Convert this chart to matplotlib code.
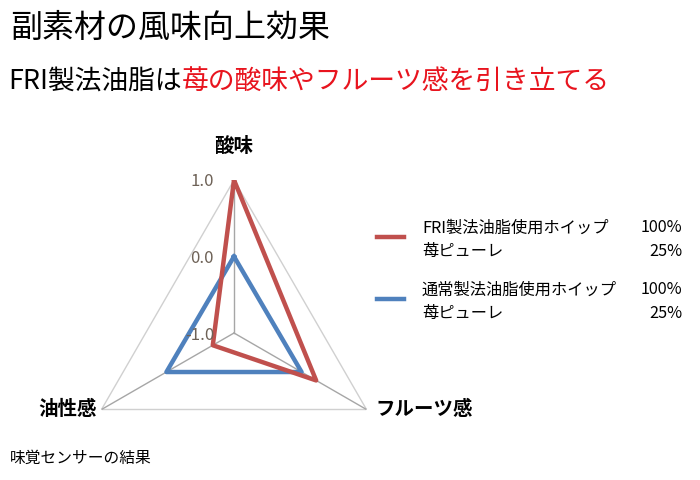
import numpy as np
import matplotlib
matplotlib.use("Agg")
import matplotlib.pyplot as plt
from matplotlib.lines import Line2D

plt.rcParams['font.family'] = ['Noto Sans CJK JP', 'DejaVu Sans']

# data
categories = ["酸味", "フルーツ感", "油性感"]
fri_values = [1.0, 0.24, -0.68]
normal_values = [0.0, 0.02, 0.02]
r_ticks = [-1.0, 0.0, 1.0]
series_names = ["FRI製法油脂使用ホイップ", "通常製法油脂使用ホイップ"]
puree_name = "苺ピューレ"
whip_pct = "100%"
puree_pct = "25%"

red = "#c0504d"
blue = "#4f81bd"

W, H = 700, 480
fig = plt.figure(figsize=(7, 4.8), dpi=100)

# polar axes centred at (234, 333) px with radius 153 px
cx, cy, rad = 234, 333, 153
ax = fig.add_axes([(cx - rad) / W, 1 - (cy + rad) / H, 2 * rad / W, 2 * rad / H],
                  projection="polar")
ax.set_theta_offset(np.pi / 2)
ax.set_theta_direction(-1)
ax.set_ylim(-1, 1)
ax.spines["polar"].set_visible(False)
ax.grid(False)
ax.set_xticks([])
ax.set_yticks([])
ax.patch.set_alpha(0)

angles = np.linspace(0, 2 * np.pi, len(categories), endpoint=False)
closed = np.append(angles, angles[0])

# outer frame and spokes
ax.plot(closed, [r_ticks[-1]] * len(closed), color="#d0d0d0", lw=1, zorder=1)
for a in angles:
    ax.plot([a, a], [r_ticks[0], r_ticks[-1]], color="#a6a6a6", lw=1, zorder=1)

# series
ax.plot(closed, fri_values + fri_values[:1], color=red, lw=3.2, zorder=3)
ax.plot(closed, normal_values + normal_values[:1], color=blue, lw=3.2, zorder=2)

# radial tick labels
for r in r_ticks:
    ax.annotate(f"{r:.1f}", xy=(0, r), xytext=(-20, -2), textcoords="offset pixels",
                ha="right", va="center", fontsize=12, color="#6e6257",
                annotation_clip=False, zorder=5)

# category labels
offsets = [(0, 34, "center"), (9, 0, "left"), (-5, 0, "right")]
for a, name, (dx, dy, ha) in zip(angles, categories, offsets):
    ax.annotate(name, xy=(a, r_ticks[-1]), xytext=(dx, dy), textcoords="offset pixels",
                ha=ha, va="center", fontsize=14, fontweight="bold", color="black",
                annotation_clip=False)

# titles
fig.text(10 / W, 1 - 28 / H, "副素材の風味向上効果", fontsize=23, va="center", ha="left")
t1 = fig.text(8 / W, 1 - 81 / H, "FRI製法油脂は", fontsize=19.3, va="center", ha="left")
ax.annotate("苺の酸味やフルーツ感を引き立てる", xy=(1, 0), xycoords=t1,
            ha="left", va="bottom", fontsize=19.3, color="#e8141e", annotation_clip=False)

# legend
for name, color, ly in zip(series_names, [red, blue], [237, 299]):
    fig.add_artist(Line2D([377 / W, 404 / W], [1 - ly / H, 1 - ly / H], color=color, lw=3.2))
    fig.text(422 / W, 1 - (ly - 9) / H, name, fontsize=11.7, va="center", ha="left")
    fig.text(682 / W, 1 - (ly - 9) / H, whip_pct, fontsize=11.7, va="center", ha="right")
    fig.text(422 / W, 1 - (ly + 14) / H, puree_name, fontsize=11.7, va="center", ha="left")
    fig.text(682 / W, 1 - (ly + 14) / H, puree_pct, fontsize=11.7, va="center", ha="right")

fig.text(10 / W, 1 - 458 / H, "味覚センサーの結果", fontsize=11.3, va="center", ha="left")

fig.savefig("out.png", dpi=100)
